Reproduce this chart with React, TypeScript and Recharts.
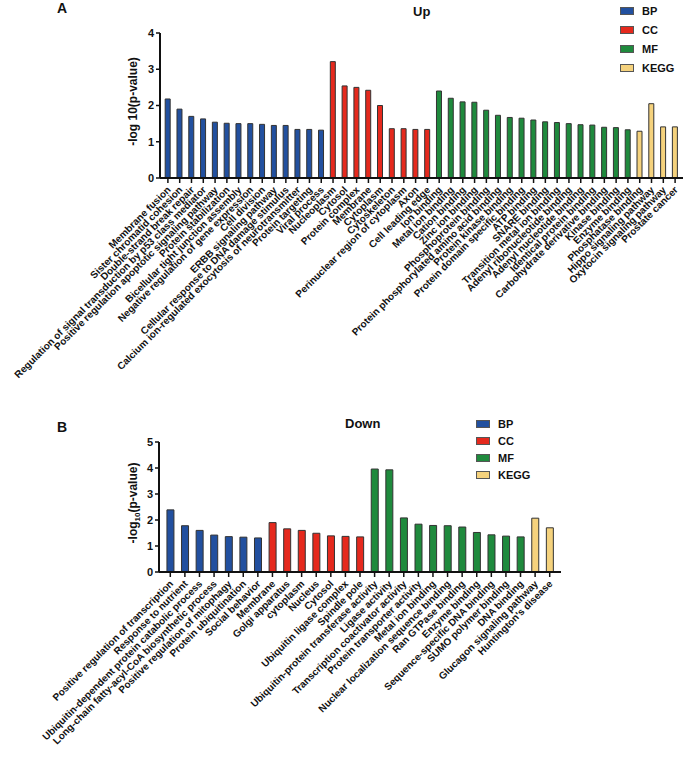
import { Bar, BarChart, Cell, XAxis, YAxis, Label } from 'recharts'

// ---- Panel A: up-regulated ----
const bpUpLabels = [
  'Membrane fusion',
  'Sister chromatid cohesion',
  'Double-strand break repair',
  'Regulation of signal transduction by p53 class mediator',
  'Positive regulation apoptotic signaling pathway',
  'Protein stabilization',
  'Bicellular tight junction assembly',
  'Negative regulation of gene expression',
  'Cell division',
  'ERBB signaling pathway',
  'Cellular response to DNA damage stimulus',
  'Calcium ion-regulated exocytosis of neurotransmitter',
  'Protein targeting',
  'Viral process',
]
const bpUpValues = [2.18, 1.9, 1.7, 1.63, 1.54, 1.51, 1.5, 1.5, 1.48, 1.45, 1.45, 1.34, 1.34, 1.32]

const ccUpLabels = [
  'Nucleoplasm',
  'Cytosol',
  'Protein complex',
  'Membrane',
  'Cytoplasm',
  'Cytoskeleton',
  'Perinuclear region of cytoplasm',
  'Axon',
  'Cell leading edge',
]
const ccUpValues = [3.21, 2.54, 2.5, 2.42, 2.0, 1.36, 1.36, 1.34, 1.34]

const mfUpLabels = [
  'Ion binding',
  'Metal ion binding',
  'Cation binding',
  'Zinc ion binding',
  'Phosphoprotein binding',
  'Protein phosphorylated amino acid binding',
  'Protein kinase binding',
  'Protein domain specific binding',
  'ATP binding',
  'SNARE binding',
  'Transition metal ion binding',
  'Adenyl ribonucleotide binding',
  'Adenyl nucleotide binding',
  'Identical protein binding',
  'Carbohydrate derivative binding',
  'Kinase binding',
  'Enzyme binding',
]
const mfUpValues = [2.4, 2.2, 2.1, 2.09, 1.87, 1.73, 1.67, 1.65, 1.6, 1.55, 1.53, 1.5, 1.47, 1.46, 1.4, 1.39, 1.33]

// the figure paints "Phosphatase binding" in the KEGG colour, kept as drawn
const keggUpLabels = ['Phosphatase binding', 'Hippo signaling pathway', 'Oxytocin signaling pathway', 'Prostate cancer']
const keggUpValues = [1.29, 2.05, 1.41, 1.41]

// ---- Panel B: down-regulated ----
const bpDownLabels = [
  'Positive regulation of transcription',
  'Response to nutrient',
  'Ubiquitin-dependent protein catabolic process',
  'Long-chain fatty-acyl-CoA biosynthetic process',
  'Positive regulation of mitophagy',
  'Protein ubiquitination',
  'Social behavior',
]
const bpDownValues = [2.39, 1.78, 1.6, 1.42, 1.36, 1.34, 1.31]

const ccDownLabels = ['Membrane', 'Golgi apparatus', 'cytoplasm', 'Nucleus', 'Cytosol', 'Ubiquitin ligase complex', 'Spindle pole']
const ccDownValues = [1.9, 1.66, 1.6, 1.49, 1.39, 1.37, 1.35]

const mfDownLabels = [
  'Ubiquitin-protein transferase activity',
  'Ligase activity',
  'Transcription coactivator activity',
  'Protein transporter activity',
  'Metal ion binding',
  'Nuclear localization sequence binding',
  'Ran GTPase binding',
  'Enzyme binding',
  'Sequence-specific DNA binding',
  'SUMO polymer binding',
  'DNA binding',
]
const mfDownValues = [3.96, 3.93, 2.08, 1.84, 1.79, 1.78, 1.73, 1.52, 1.43, 1.38, 1.35]

const keggDownLabels = ['Glucagon signaling pathway', "Huntington's disease"]
const keggDownValues = [2.07, 1.7]

const groups = ['BP', 'CC', 'MF', 'KEGG']
const colors: Record<string, string> = {
  BP: '#22509f',
  CC: '#e5291d',
  MF: '#1f8a3d',
  KEGG: '#f5d27d',
}

type Row = { name: string; value: number; group: string }

function rows(group: string, labels: string[], values: number[]): Row[] {
  return labels.map((name, i) => ({ name, value: values[i], group }))
}

const upData = [
  ...rows('BP', bpUpLabels, bpUpValues),
  ...rows('CC', ccUpLabels, ccUpValues),
  ...rows('MF', mfUpLabels, mfUpValues),
  ...rows('KEGG', keggUpLabels, keggUpValues),
]
const downData = [
  ...rows('BP', bpDownLabels, bpDownValues),
  ...rows('CC', ccDownLabels, ccDownValues),
  ...rows('MF', mfDownLabels, mfDownValues),
  ...rows('KEGG', keggDownLabels, keggDownValues),
]

const FONT = '"Liberation Sans", Arial, sans-serif'

function SlantTick({ x, y, payload }: any) {
  return (
    <g transform={`translate(${x + 1},${y + 3})`}>
      <text
        transform="rotate(-45)"
        textAnchor="end"
        dy="0.35em"
        fontSize={10}
        fontWeight={700}
        fontFamily={FONT}
        fill="#111"
      >
        {payload.value}
      </text>
    </g>
  )
}

function YLabel({ viewBox, sub }: any) {
  const cx = 133
  const cy = viewBox.y + viewBox.height / 2 - 4
  return (
    <text
      transform={`translate(${cx},${cy}) rotate(-90)`}
      textAnchor="middle"
      fontSize={12}
      fontWeight={700}
      fontFamily={FONT}
      fill="#111"
      dy="0.35em"
    >
      {sub ? (
        <>
          <tspan>-log</tspan>
          <tspan fontSize={8} dy={3}>10</tspan>
          <tspan dy={-3}>(p-value)</tspan>
        </>
      ) : (
        '-log 10(p-value)'
      )}
    </text>
  )
}

function LegendBox({ left, top, step }: { left: number; top: number; step: number }) {
  return (
    <div style={{ position: 'absolute', left, top }}>
      {groups.map((g, i) => (
        <div key={g} style={{ position: 'absolute', top: i * step, left: 0, display: 'flex', alignItems: 'center', whiteSpace: 'nowrap' }}>
          <div style={{ width: 14, height: 8, background: colors[g], border: '1px solid #555', boxSizing: 'border-box' }} />
          <span style={{ marginLeft: 8, fontSize: 11, fontWeight: 700, fontFamily: FONT, color: '#111', lineHeight: '10px' }}>{g}</span>
        </div>
      ))}
    </div>
  )
}

function Panel({ data, domain, ticks, height, margin, yWidth, xHeight, pad, sub }: any) {
  return (
    <BarChart width={685} height={height} data={data} margin={margin} barCategoryGap="27%">
      <XAxis
        dataKey="name"
        interval={0}
        height={xHeight}
        tick={<SlantTick />}
        tickSize={5}
        tickLine={{ stroke: '#111', strokeWidth: 1.5 }}
        axisLine={{ stroke: '#111', strokeWidth: 2 }}
        padding={pad}
      />
      <YAxis
        domain={domain}
        ticks={ticks}
        width={yWidth}
        tickSize={4}
        tickLine={{ stroke: '#111', strokeWidth: 1.5 }}
        axisLine={{ stroke: '#111', strokeWidth: 2 }}
        tick={{ fontSize: 11, fontWeight: 700, fill: '#111', fontFamily: FONT }}
      >
        <Label content={<YLabel sub={sub} />} />
      </YAxis>
      <Bar dataKey="value" isAnimationActive={false} stroke="#333" strokeWidth={1}>
        {data.map((d: Row, i: number) => (
          <Cell key={i} fill={colors[d.group]} />
        ))}
      </Bar>
    </BarChart>
  )
}

export default function App() {
  const bold = { position: 'absolute' as const, fontFamily: FONT, fontWeight: 700, color: '#111', lineHeight: '16px' }
  return (
    <div style={{ position: 'absolute', left: 0, top: 0, width: 685, height: 771, background: '#fff', overflow: 'hidden' }}>
      <div style={{ position: 'absolute', left: 0, top: 0 }}>
        <Panel
          data={upData}
          domain={[0, 4]}
          ticks={[0, 1, 2, 3, 4]}
          height={380}
          margin={{ top: 33, right: 2, left: 0, bottom: 0 }}
          yWidth={160}
          xHeight={202}
          pad={{ left: 2, right: 2 }}
          sub={false}
        />
      </div>
      <div style={{ position: 'absolute', left: 0, top: 380 }}>
        <Panel
          data={downData}
          domain={[0, 5]}
          ticks={[0, 1, 2, 3, 4, 5]}
          height={391}
          margin={{ top: 62, right: 124, left: 0, bottom: 0 }}
          yWidth={159}
          xHeight={199}
          pad={{ left: 4, right: 4 }}
          sub={true}
        />
      </div>
      <div style={{ ...bold, left: 57, top: 0, fontSize: 14 }}>A</div>
      <div style={{ ...bold, left: 57, top: 419, fontSize: 14 }}>B</div>
      <div style={{ ...bold, left: 413, top: 4, fontSize: 13 }}>Up</div>
      <div style={{ ...bold, left: 345, top: 416, fontSize: 13 }}>Down</div>
      <LegendBox left={620} top={6} step={19} />
      <LegendBox left={476} top={419} step={17} />
    </div>
  )
}
